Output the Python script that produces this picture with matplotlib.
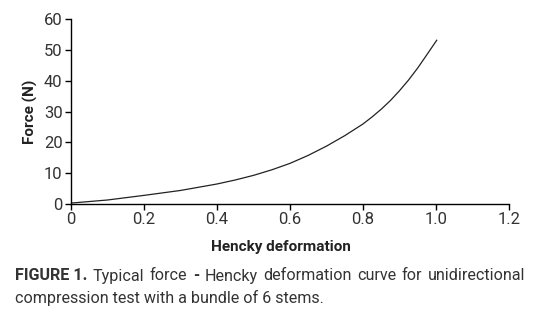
import matplotlib
matplotlib.use("Agg")
from matplotlib import pyplot as plt
from matplotlib import font_manager

# values
deformation = [0.0, 0.1, 0.2, 0.3, 0.4, 0.45, 0.5, 0.55, 0.6, 0.65, 0.7, 0.75, 0.8,
               0.825, 0.85, 0.875, 0.9, 0.925, 0.95, 0.975, 1.002]
force = [0.3, 1.3, 2.8, 4.4, 6.5, 7.8, 9.3, 11.1, 13.2, 15.8, 18.8, 22.2, 26.0,
         28.3, 30.8, 33.6, 36.8, 40.3, 44.2, 48.5, 53.2]
x_ticks = [0, 0.2, 0.4, 0.6, 0.8, 1.0, 1.2]
x_labels = ["0", "0.2", "0.4", "0.6", "0.8", "1.0", "1.2"]
y_ticks = [0, 10, 20, 30, 40, 50, 60]

names = {f.name for f in font_manager.fontManager.ttflist}
FONT = ["Liberation Sans Narrow"] if "Liberation Sans Narrow" in names else ["Roboto"]
FONT = FONT + ["DejaVu Sans"]
plt.rcParams["font.family"] = FONT

W, H = 541, 324
fig = plt.figure(figsize=(W / 100, H / 100), dpi=100)
ax = fig.add_axes([71 / W, 1 - 204 / H, (509 - 71) / W, (204 - 19.3) / H])

ax.plot(deformation, force, color="#222222", lw=0.9)
ax.set_xlim(0, 1.2)
ax.set_ylim(0, 60)
ax.set_xticks(x_ticks)
ax.set_xticklabels(x_labels)
ax.set_yticks(y_ticks)
for s in ("top", "right"):
    ax.spines[s].set_visible(False)
for s in ("left", "bottom"):
    ax.spines[s].set_linewidth(1.0)
ax.tick_params(direction="out", length=4, width=1.0, labelsize=12, colors="black",
               labelcolor="#333333", pad=2)
ax.set_ylabel("Force (N)", fontsize=11, fontweight="bold", color="#222222", labelpad=4)

fig.text(281 / W, 1 - 247 / H, "Hencky deformation", fontsize=11, fontweight="bold",
         color="#222222", ha="center", va="center")

# caption, first line justified across the width
fig.canvas.draw()
renderer = fig.canvas.get_renderer()
words = ["FIGURE 1.", "Typical", "force", "-", "Hencky", "deformation", "curve", "for",
         "unidirectional"]
x0, x1 = 15, 525
objs = []
for i, w in enumerate(words):
    bold = i == 0 or w == "-"
    t = fig.text(0, 1 - 276 / H, w, fontsize=11.6, color="#333333",
                 fontweight="bold" if bold else "normal", va="center", ha="left")
    objs.append(t)
widths = [t.get_window_extent(renderer).width for t in objs]
gap = (x1 - x0 - sum(widths)) / (len(words) - 1)
x = x0
for t, w in zip(objs, widths):
    t.set_x(x / W)
    x += w + gap

fig.text(x0 / W, 1 - 298 / H, "compression test with a bundle of 6 stems.", fontsize=11.6,
         color="#333333", va="center", ha="left")

fig.savefig("out.png", dpi=100)
